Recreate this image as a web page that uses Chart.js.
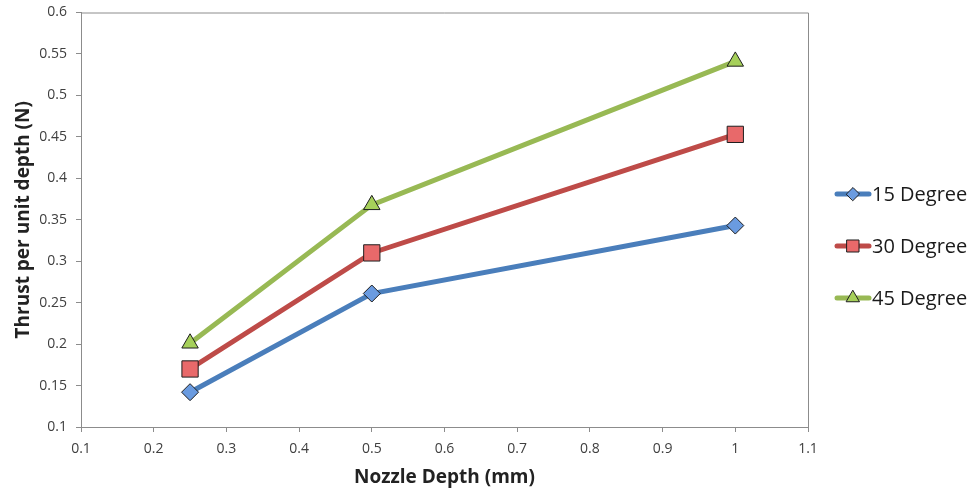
<!DOCTYPE html>
<html>
<head>
<meta charset="utf-8">
<script src="https://cdn.jsdelivr.net/npm/chart.js@4"></script>
<style>
  html, body { margin: 0; padding: 0; background: #fff; }
  #wrap { width: 973px; height: 494px; }
</style>
</head>
<body>
<div id="wrap"><canvas id="thrustChart" width="973" height="494"></canvas></div>
<script>
// Données
const depths = [0.25, 0.5, 1];
const thrust15 = [0.142, 0.261, 0.343];
const thrust30 = [0.170, 0.310, 0.453];
const thrust45 = [0.201, 0.368, 0.541];
const seriesLabels = ['15 Degree', '30 Degree', '45 Degree'];
const xTicks = [0.1, 0.2, 0.3, 0.4, 0.5, 0.6, 0.7, 0.8, 0.9, 1, 1.1];
const yTicks = [0.1, 0.15, 0.2, 0.25, 0.3, 0.35, 0.4, 0.45, 0.5, 0.55, 0.6];

const lineColors = ['#4a7ebb', '#be4b48', '#98b954'];
const markerFills = ['#6a9be0', '#e8696a', '#a6d05a'];
const markerStyles = ['rectRot', 'rect', 'triangle'];
const markerSizes = [8.5, 11.5, 9.5];
const legendSizes = [6.5, 8.5, 7.5];
const FONT = '"Open Sans", "Liberation Sans", sans-serif';

function toPoints(values) {
    return depths.map((d, i) => ({ x: d, y: values[i] }));
}

// Cadre du graphique (haut + droite) et légende dessinée à la main
const framePlugin = {
    id: 'frame',
    beforeDatasetsDraw(chart) {
        const { ctx, chartArea: a } = chart;
        ctx.save();
        ctx.strokeStyle = '#8c8c8c';
        ctx.lineWidth = 1;
        ctx.beginPath();
        ctx.moveTo(a.left, a.top + 0.5);
        ctx.lineTo(a.right + 0.5, a.top + 0.5);
        ctx.lineTo(a.right + 0.5, a.bottom);
        ctx.stroke();
        ctx.restore();
    },
    afterDraw(chart) {
        const { ctx } = chart;
        ctx.save();
        chart.data.datasets.forEach((ds, i) => {
            const y = 194 + i * 52;
            ctx.strokeStyle = ds.borderColor;
            ctx.lineWidth = 5;
            ctx.lineCap = 'round';
            ctx.beginPath();
            ctx.moveTo(837, y);
            ctx.lineTo(869, y);
            ctx.stroke();
            ctx.fillStyle = ds.pointBackgroundColor;
            ctx.strokeStyle = '#1e1e1e';
            ctx.lineWidth = 1;
            Chart.helpers.drawPoint(ctx, {
                pointStyle: ds.pointStyle,
                radius: legendSizes[i],
                rotation: 0,
                borderWidth: 1
            }, 853, y);
            ctx.fillStyle = '#1a1a1a';
            ctx.font = '20px ' + FONT;
            ctx.textBaseline = 'middle';
            ctx.textAlign = 'left';
            ctx.fillText(ds.label, 872, y + 1);
        });
        ctx.restore();
    }
};

const datasets = [thrust15, thrust30, thrust45].map((vals, i) => ({
    label: seriesLabels[i],
    data: toPoints(vals),
    borderColor: lineColors[i],
    borderWidth: 5,
    pointStyle: markerStyles[i],
    pointRadius: markerSizes[i],
    pointBackgroundColor: markerFills[i],
    pointBorderColor: '#1e1e1e',
    pointBorderWidth: 1,
    tension: 0
}));

const ctx = document.getElementById('thrustChart').getContext('2d');
new Chart(ctx, {
    type: 'line',
    data: { datasets: datasets },
    plugins: [framePlugin],
    options: {
        responsive: false,
        animation: false,
        layout: { padding: { left: 0, right: 165, top: 12, bottom: 0 } },
        plugins: {
            legend: { display: false },
            tooltip: { enabled: false }
        },
        scales: {
            x: {
                type: 'linear',
                min: 0.1,
                max: 1.1,
                afterBuildTicks: axis => { axis.ticks = xTicks.map(v => ({ value: v })); },
                afterFit: axis => {
                    axis.height = 67;
                    axis.paddingLeft = 0;
                    axis.paddingRight = 0;
                },
                ticks: {
                    color: '#404040',
                    font: { size: 14, family: FONT },
                    padding: 9,
                    maxRotation: 0,
                    callback: v => String(Number(v.toFixed(2)))
                },
                grid: { drawOnChartArea: false, tickLength: 5, color: '#8c8c8c' },
                border: { color: '#8c8c8c', width: 1 },
                title: {
                    display: true,
                    text: 'Nozzle Depth (mm)',
                    color: '#222',
                    font: { size: 19, weight: 'bold', family: FONT, lineHeight: 1.3 }
                }
            },
            y: {
                type: 'linear',
                min: 0.1,
                max: 0.6,
                afterBuildTicks: axis => { axis.ticks = yTicks.map(v => ({ value: v })); },
                afterFit: axis => {
                    axis.width = 81;
                    axis.paddingTop = 0;
                    axis.paddingBottom = 0;
                },
                ticks: {
                    color: '#404040',
                    font: { size: 14, family: FONT },
                    padding: 9,
                    callback: v => String(Number(v.toFixed(2)))
                },
                grid: { drawOnChartArea: false, tickLength: 5, color: '#8c8c8c' },
                border: { color: '#8c8c8c', width: 1 },
                title: {
                    display: true,
                    text: 'Thrust per unit depth (N)',
                    color: '#222',
                    font: { size: 19, weight: 'bold', family: FONT, lineHeight: 2.1 }
                }
            }
        }
    }
});
</script>
</body>
</html>
